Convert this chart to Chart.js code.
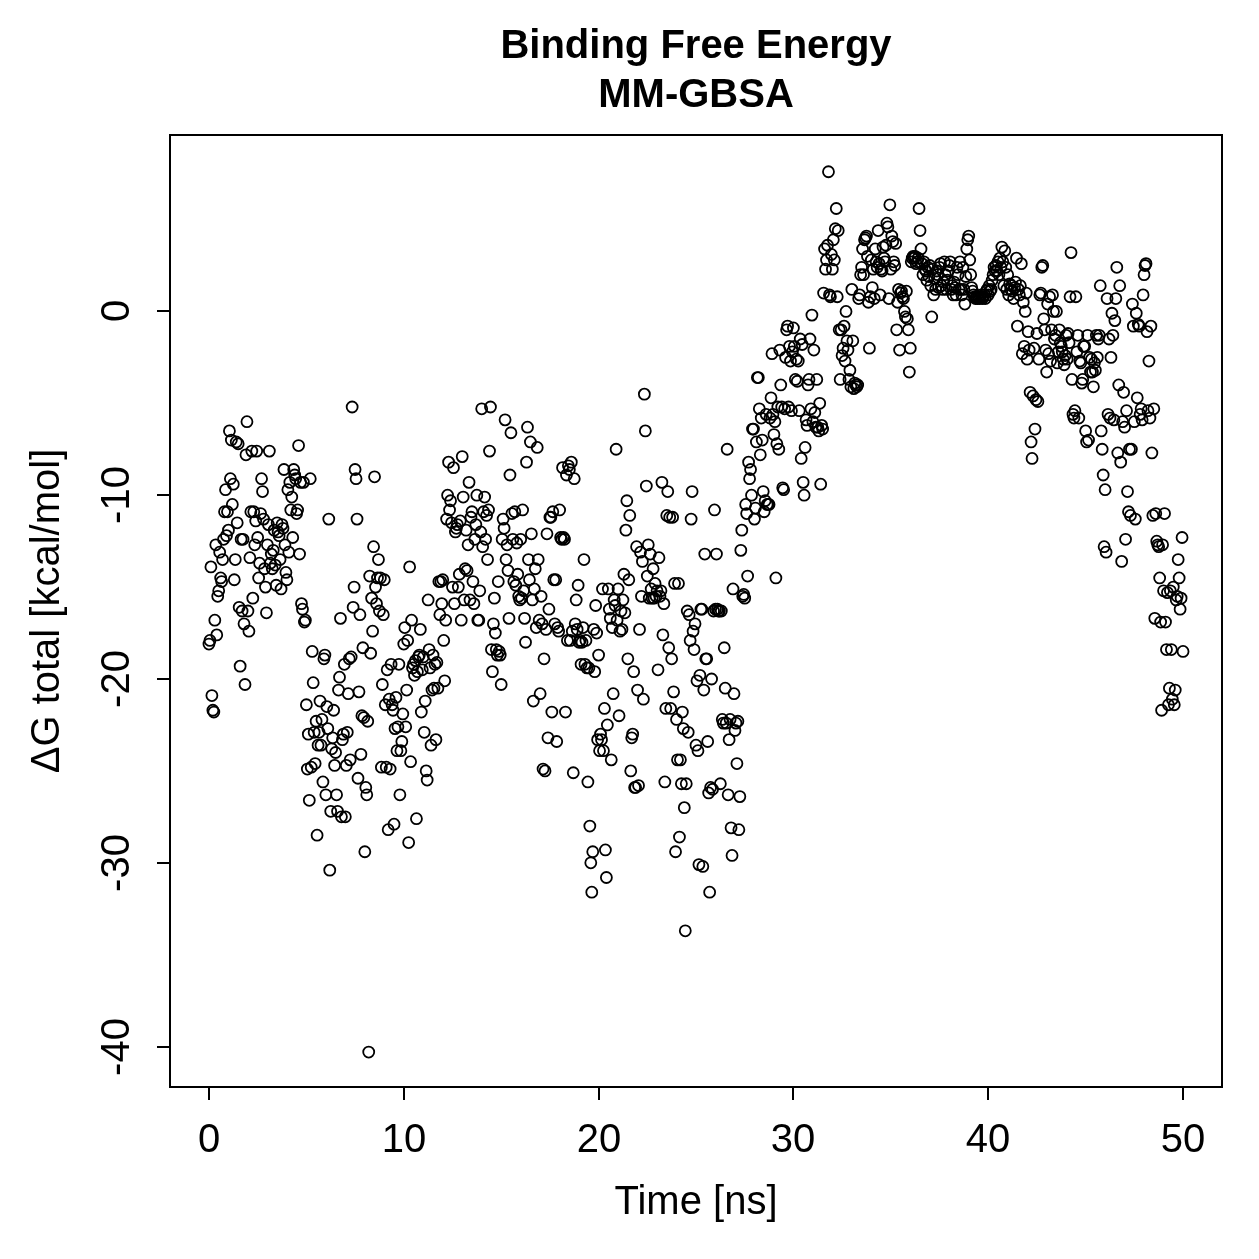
<!DOCTYPE html>
<html>
<head>
<meta charset="utf-8">
<title>Binding Free Energy MM-GBSA</title>
<script src="https://cdn.jsdelivr.net/npm/chart.js@4.4.1/dist/chart.umd.min.js"></script>
<style>
  html, body { margin: 0; padding: 0; background: #fff; }
  canvas { display: block; }
</style>
</head>
<body>
<canvas id="grafico" width="1259" height="1259"></canvas>
<script>
// ---- data: one frame every 0.05 ns ----
const timeNs = [
0,0.05,0.1,0.15,0.2,0.25,0.3,0.35,0.4,0.45,0.5,0.55,0.6,0.65,0.7,0.75,0.8,0.85,0.9,0.95,
1,1.05,1.1,1.15,1.2,1.25,1.3,1.35,1.4,1.45,1.5,1.55,1.6,1.65,1.7,1.75,1.8,1.85,1.9,1.95,
2,2.05,2.1,2.15,2.2,2.25,2.3,2.35,2.4,2.45,2.5,2.55,2.6,2.65,2.7,2.75,2.8,2.85,2.9,2.95,
3,3.05,3.1,3.15,3.2,3.25,3.3,3.35,3.4,3.45,3.5,3.55,3.6,3.65,3.7,3.75,3.8,3.85,3.9,3.95,
4,4.05,4.1,4.15,4.2,4.25,4.3,4.35,4.4,4.45,4.5,4.55,4.6,4.65,4.7,4.75,4.8,4.85,4.9,4.95,
5,5.05,5.1,5.15,5.2,5.25,5.3,5.35,5.4,5.45,5.5,5.55,5.6,5.65,5.7,5.75,5.8,5.85,5.9,5.95,
6,6.05,6.1,6.15,6.2,6.25,6.3,6.35,6.4,6.45,6.5,6.55,6.6,6.65,6.7,6.75,6.8,6.85,6.9,6.95,
7,7.05,7.1,7.15,7.2,7.25,7.3,7.35,7.4,7.45,7.5,7.55,7.6,7.65,7.7,7.75,7.8,7.85,7.9,7.95,
8,8.05,8.1,8.15,8.2,8.25,8.3,8.35,8.4,8.45,8.5,8.55,8.6,8.65,8.7,8.75,8.8,8.85,8.9,8.95,
9,9.05,9.1,9.15,9.2,9.25,9.3,9.35,9.4,9.45,9.5,9.55,9.6,9.65,9.7,9.75,9.8,9.85,9.9,9.95,
10,10.05,10.1,10.15,10.2,10.25,10.3,10.35,10.4,10.45,10.5,10.55,10.6,10.65,10.7,10.75,10.8,10.85,10.9,10.95,
11,11.05,11.1,11.15,11.2,11.25,11.3,11.35,11.4,11.45,11.5,11.55,11.6,11.65,11.7,11.75,11.8,11.85,11.9,11.95,
12,12.05,12.1,12.15,12.2,12.25,12.3,12.35,12.4,12.45,12.5,12.55,12.6,12.65,12.7,12.75,12.8,12.85,12.9,12.95,
13,13.05,13.1,13.15,13.2,13.25,13.3,13.35,13.4,13.45,13.5,13.55,13.6,13.65,13.7,13.75,13.8,13.85,13.9,13.95,
14,14.05,14.1,14.15,14.2,14.25,14.3,14.35,14.4,14.45,14.5,14.55,14.6,14.65,14.7,14.75,14.8,14.85,14.9,14.95,
15,15.05,15.1,15.15,15.2,15.25,15.3,15.35,15.4,15.45,15.5,15.55,15.6,15.65,15.7,15.75,15.8,15.85,15.9,15.95,
16,16.05,16.1,16.15,16.2,16.25,16.3,16.35,16.4,16.45,16.5,16.55,16.6,16.65,16.7,16.75,16.8,16.85,16.9,16.95,
17,17.05,17.1,17.15,17.2,17.25,17.3,17.35,17.4,17.45,17.5,17.55,17.6,17.65,17.7,17.75,17.8,17.85,17.9,17.95,
18,18.05,18.1,18.15,18.2,18.25,18.3,18.35,18.4,18.45,18.5,18.55,18.6,18.65,18.7,18.75,18.8,18.85,18.9,18.95,
19,19.05,19.1,19.15,19.2,19.25,19.3,19.35,19.4,19.45,19.5,19.55,19.6,19.65,19.7,19.75,19.8,19.85,19.9,19.95,
20,20.05,20.1,20.15,20.2,20.25,20.3,20.35,20.4,20.45,20.5,20.55,20.6,20.65,20.7,20.75,20.8,20.85,20.9,20.95,
21,21.05,21.1,21.15,21.2,21.25,21.3,21.35,21.4,21.45,21.5,21.55,21.6,21.65,21.7,21.75,21.8,21.85,21.9,21.95,
22,22.05,22.1,22.15,22.2,22.25,22.3,22.35,22.4,22.45,22.5,22.55,22.6,22.65,22.7,22.75,22.8,22.85,22.9,22.95,
23,23.05,23.1,23.15,23.2,23.25,23.3,23.35,23.4,23.45,23.5,23.55,23.6,23.65,23.7,23.75,23.8,23.85,23.9,23.95,
24,24.05,24.1,24.15,24.2,24.25,24.3,24.35,24.4,24.45,24.5,24.55,24.6,24.65,24.7,24.75,24.8,24.85,24.9,24.95,
25,25.05,25.1,25.15,25.2,25.25,25.3,25.35,25.4,25.45,25.5,25.55,25.6,25.65,25.7,25.75,25.8,25.85,25.9,25.95,
26,26.05,26.1,26.15,26.2,26.25,26.3,26.35,26.4,26.45,26.5,26.55,26.6,26.65,26.7,26.75,26.8,26.85,26.9,26.95,
27,27.05,27.1,27.15,27.2,27.25,27.3,27.35,27.4,27.45,27.5,27.55,27.6,27.65,27.7,27.75,27.8,27.85,27.9,27.95,
28,28.05,28.1,28.15,28.2,28.25,28.3,28.35,28.4,28.45,28.5,28.55,28.6,28.65,28.7,28.75,28.8,28.85,28.9,28.95,
29,29.05,29.1,29.15,29.2,29.25,29.3,29.35,29.4,29.45,29.5,29.55,29.6,29.65,29.7,29.75,29.8,29.85,29.9,29.95,
30,30.05,30.1,30.15,30.2,30.25,30.3,30.35,30.4,30.45,30.5,30.55,30.6,30.65,30.7,30.75,30.8,30.85,30.9,30.95,
31,31.05,31.1,31.15,31.2,31.25,31.3,31.35,31.4,31.45,31.5,31.55,31.6,31.65,31.7,31.75,31.8,31.85,31.9,31.95,
32,32.05,32.1,32.15,32.2,32.25,32.3,32.35,32.4,32.45,32.5,32.55,32.6,32.65,32.7,32.75,32.8,32.85,32.9,32.95,
33,33.05,33.1,33.15,33.2,33.25,33.3,33.35,33.4,33.45,33.5,33.55,33.6,33.65,33.7,33.75,33.8,33.85,33.9,33.95,
34,34.05,34.1,34.15,34.2,34.25,34.3,34.35,34.4,34.45,34.5,34.55,34.6,34.65,34.7,34.75,34.8,34.85,34.9,34.95,
35,35.05,35.1,35.15,35.2,35.25,35.3,35.35,35.4,35.45,35.5,35.55,35.6,35.65,35.7,35.75,35.8,35.85,35.9,35.95,
36,36.05,36.1,36.15,36.2,36.25,36.3,36.35,36.4,36.45,36.5,36.55,36.6,36.65,36.7,36.75,36.8,36.85,36.9,36.95,
37,37.05,37.1,37.15,37.2,37.25,37.3,37.35,37.4,37.45,37.5,37.55,37.6,37.65,37.7,37.75,37.8,37.85,37.9,37.95,
38,38.05,38.1,38.15,38.2,38.25,38.3,38.35,38.4,38.45,38.5,38.55,38.6,38.65,38.7,38.75,38.8,38.85,38.9,38.95,
39,39.05,39.1,39.15,39.2,39.25,39.3,39.35,39.4,39.45,39.5,39.55,39.6,39.65,39.7,39.75,39.8,39.85,39.9,39.95,
40,40.05,40.1,40.15,40.2,40.25,40.3,40.35,40.4,40.45,40.5,40.55,40.6,40.65,40.7,40.75,40.8,40.85,40.9,40.95,
41,41.05,41.1,41.15,41.2,41.25,41.3,41.35,41.4,41.45,41.5,41.55,41.6,41.65,41.7,41.75,41.8,41.85,41.9,41.95,
42,42.05,42.1,42.15,42.2,42.25,42.3,42.35,42.4,42.45,42.5,42.55,42.6,42.65,42.7,42.75,42.8,42.85,42.9,42.95,
43,43.05,43.1,43.15,43.2,43.25,43.3,43.35,43.4,43.45,43.5,43.55,43.6,43.65,43.7,43.75,43.8,43.85,43.9,43.95,
44,44.05,44.1,44.15,44.2,44.25,44.3,44.35,44.4,44.45,44.5,44.55,44.6,44.65,44.7,44.75,44.8,44.85,44.9,44.95,
45,45.05,45.1,45.15,45.2,45.25,45.3,45.35,45.4,45.45,45.5,45.55,45.6,45.65,45.7,45.75,45.8,45.85,45.9,45.95,
46,46.05,46.1,46.15,46.2,46.25,46.3,46.35,46.4,46.45,46.5,46.55,46.6,46.65,46.7,46.75,46.8,46.85,46.9,46.95,
47,47.05,47.1,47.15,47.2,47.25,47.3,47.35,47.4,47.45,47.5,47.55,47.6,47.65,47.7,47.75,47.8,47.85,47.9,47.95,
48,48.05,48.1,48.15,48.2,48.25,48.3,48.35,48.4,48.45,48.5,48.55,48.6,48.65,48.7,48.75,48.8,48.85,48.9,48.95,
49,49.05,49.1,49.15,49.2,49.25,49.3,49.35,49.4,49.45,49.5,49.55,49.6,49.65,49.7,49.75,49.8,49.85,49.9,49.95,
50
];

// dG total (kcal/mol)
const deltaG = [
-18.1,-17.9,-13.9,-20.9,-21.7,-21.8,-16.8,-12.7,-17.6,-15.5,-15.2,-13.1,-14.5,-14.7,-13.5,-12.4,-10.9,-9.7,-12.2,-10.9,
-11.9,-6.5,-9.1,-7.0,-10.5,-9.4,-14.6,-13.5,-7.1,-11.5,-7.2,-16.1,-19.3,-12.4,-16.3,-12.4,-17.0,-20.3,-7.8,-6.0,
-16.3,-17.4,-13.4,-10.9,-7.6,-15.6,-10.9,-12.7,-11.4,-7.6,-12.3,-14.5,-13.7,-11.0,-9.1,-9.8,-11.3,-14.0,-15.0,-16.4,
-12.7,-11.6,-7.6,-13.7,-13.2,-14.0,-13.0,-11.9,-13.8,-14.9,-11.5,-12.0,-12.2,-13.5,-15.1,-11.6,-11.8,-8.6,-12.7,-14.2,
-14.6,-9.7,-13.1,-9.3,-10.8,-10.1,-12.3,-8.6,-8.9,-9.1,-11.0,-10.8,-7.3,-13.2,-9.3,-15.9,-16.2,-9.3,-16.9,-16.8,
-21.4,-24.9,-23.0,-26.6,-9.1,-24.8,-18.5,-20.2,-22.9,-24.6,-22.3,-28.5,-23.6,-22.9,-21.2,-23.6,-22.2,-25.6,-18.9,-18.7,
-26.3,-21.5,-22.7,-11.3,-30.4,-27.2,-23.8,-23.2,-21.7,-24.7,-24.0,-26.3,-27.2,-20.6,-19.9,-16.7,-27.5,-23.3,-23.0,-19.2,-27.5,
-24.7,-22.9,-20.8,-18.9,-24.4,-18.8,-5.2,-16.1,-15.0,-8.6,-9.1,-11.3,-25.4,-20.7,-16.5,-24.1,-22.0,-18.3,-22.1,-29.4,
-25.9,-26.3,-22.3,-40.3,-14.4,-18.6,-15.6,-17.4,-12.8,-9.0,-15.0,-15.9,-14.5,-13.5,-16.3,-14.5,-24.8,-20.3,-16.5,-14.6,-21.4,
-24.8,-19.5,-28.2,-21.1,-24.9,-19.2,-21.4,-21.7,-27.9,-22.7,-21.0,-23.9,-22.6,-19.2,-26.3,-23.9,-23.4,-21.9,-18.1,-17.2,
-22.6,-20.6,-17.9,-28.9,-13.9,-24.5,-16.8,-19.4,-19.2,-19.8,-19.0,-27.6,-19.6,-18.8,-18.7,-17.3,-21.8,-19.5,-18.8,-22.9,-21.2,
-25.0,-25.5,-15.7,-18.4,-19.4,-23.6,-20.6,-18.7,-20.5,-19.2,-23.3,-19.1,-20.5,-14.7,-16.5,-14.7,-15.9,-14.6,-17.9,-20.1,
-16.8,-11.3,-10.0,-8.2,-10.8,-10.3,-11.5,-15.0,-8.5,-15.9,-12.0,-11.8,-11.6,-15.0,-14.3,-11.4,-16.8,-7.9,-10.1,-15.7,-14.0,
-11.9,-14.1,-12.7,-9.3,-15.7,-11.2,-10.9,-14.7,-15.9,-12.4,-11.6,-10.0,-16.8,-16.8,-15.2,-12.0,-5.3,-12.8,-10.9,-10.1,
-12.4,-11.1,-13.5,-10.8,-7.6,-5.2,-18.4,-19.6,-17.0,-15.6,-17.5,-18.4,-18.7,-14.7,-18.5,-18.7,-20.3,-12.4,-11.3,-11.8,-5.9,
-13.5,-12.7,-14.1,-16.7,-8.9,-6.6,-11.0,-12.4,-14.7,-10.9,-14.9,-12.6,-14.3,-15.5,-15.7,-12.4,-15.6,-10.8,-15.2,-16.7,
-18.0,-8.2,-6.3,-13.5,-14.6,-7.1,-12.1,-15.7,-21.2,-15.1,-14.0,-17.2,-7.4,-13.5,-16.8,-20.8,-15.5,-17.0,-24.9,-18.9,-25.0,
-17.3,-12.1,-23.2,-16.2,-11.2,-11.2,-21.8,-10.9,-14.6,-17.0,-14.6,-23.4,-17.2,-17.4,-10.8,-12.3,-12.4,-8.5,-12.3,-12.4,
-21.8,-8.9,-17.9,-8.4,-8.6,-17.9,-8.2,-17.4,-25.1,-9.1,-17.0,-15.7,-17.3,-14.9,-18.0,-17.9,-19.2,-18.0,-17.2,-13.5,-19.2,
-17.9,-19.4,-25.6,-19.4,-28.0,-30.0,-31.6,-29.4,-17.3,-19.6,-16.0,-17.5,-23.3,-18.7,-23.9,-23.0,-23.3,-15.1,-23.9,-21.6,
-29.3,-30.8,-22.5,-15.1,-16.2,-16.7,-24.4,-17.2,-20.8,-15.7,-16.0,-7.5,-16.8,-15.1,-22.0,-17.4,-16.3,-17.3,-15.7,-14.3,-16.4,
-11.9,-10.3,-18.9,-14.6,-11.1,-25.0,-23.2,-23.0,-19.6,-25.9,-25.9,-12.8,-20.6,-25.8,-17.3,-13.1,-15.5,-13.6,-21.1,-4.5,
-6.5,-9.5,-14.4,-12.7,-15.6,-13.2,-15.1,-15.6,-14.0,-15.6,-14.8,-15.5,-15.2,-19.5,-13.4,-15.5,-15.2,-9.3,-17.6,-15.9,-25.6,
-21.6,-11.1,-9.8,-18.3,-11.2,-21.6,-18.9,-11.2,-20.7,-14.8,-29.4,-22.2,-24.4,-14.8,-28.6,-24.4,-25.7,-21.8,-22.7,-27.0,
-33.7,-25.7,-16.3,-22.9,-16.5,-17.9,-11.3,-9.8,-17.4,-18.4,-17.0,-23.6,-20.1,-23.9,-30.1,-19.8,-16.2,-16.2,-30.2,-20.6,-13.2,
-18.9,-18.9,-23.4,-26.2,-31.6,-25.9,-20.0,-26.0,-16.3,-10.8,-16.2,-13.2,-16.2,-16.3,-16.3,-25.7,-16.3,-22.2,-22.4,-18.3,
-20.5,-22.4,-7.5,-26.3,-23.3,-22.2,-28.1,-29.6,-15.1,-20.8,-22.8,-22.4,-24.6,-22.3,-28.2,-26.4,-13.0,-11.9,-15.5,-15.4,-15.6,
-10.5,-11.0,-14.4,-8.2,-9.1,-8.6,-10.0,-6.4,-6.4,-11.3,-10.7,-7.1,-3.6,-3.6,-5.3,-7.8,-5.8,-7.0,-9.8,-10.9,
-10.3,-5.6,-10.5,-10.5,-10.5,-5.8,-4.7,-2.3,-5.6,-6.7,-6.0,-14.5,-7.2,-5.2,-7.5,-2.1,-4.0,-5.2,-9.6,-9.7,-5.3,
-2.5,-1.0,-0.8,-5.2,-1.9,-2.7,-5.4,-2.2,-0.9,-1.9,-3.7,-2.6,-3.8,-2.7,-5.4,-1.5,-8.0,-1.8,-9.3,-10.0,
-7.4,-5.9,-6.2,-4.0,-3.7,-1.5,-5.3,-0.2,-6.0,-2.1,-5.5,-6.3,-3.7,-6.3,-6.5,-5.0,-9.4,-6.2,-6.4,1.0,3.4,
2.3,2.8,3.6,7.6,0.9,0.8,3.1,2.3,3.9,2.8,4.5,5.6,0.8,4.4,-1.0,-3.7,-1.0,-2.4,-2.0,-0.8,
-2.7,0.0,-1.6,-2.1,-3.7,-3.2,-4.1,1.2,-1.6,-4.2,-3.9,-4.0,-4.1,-4.0,0.7,0.9,2.0,2.4,3.4,2.0,3.9,
4.0,4.1,3.0,0.5,-2.0,0.8,2.8,1.3,2.3,0.7,3.4,2.7,2.4,4.4,2.6,0.9,2.3,2.2,3.5,2.9,
2.7,3.6,4.8,4.6,0.7,5.8,2.3,4.1,3.8,2.7,2.5,3.7,-1.0,0.5,1.2,-2.1,1.0,1.1,0.8,0.7,0.0,
-0.3,1.1,-0.4,-1.0,-3.3,-2.0,2.7,2.9,3.0,2.9,3.0,2.6,2.7,2.9,5.6,4.4,3.4,2.6,2.0,2.7,
2.3,2.2,1.7,2.4,1.9,2.5,1.4,-0.3,2.3,0.9,1.8,1.2,2.2,2.0,1.3,2.4,2.6,1.4,1.2,1.6,2.7,
2.0,1.2,1.7,2.2,2.5,2.7,1.2,1.4,0.9,1.6,1.3,0.9,2.4,2.0,1.2,2.7,1.2,0.9,2.4,1.2,
0.4,1.9,3.4,3.9,4.1,2.8,2.0,1.3,1.1,0.9,0.8,0.7,0.8,0.7,0.8,0.7,0.8,0.9,0.7,0.8,0.9,
0.7,1.1,1.2,0.9,1.4,1.1,1.2,1.7,2.0,2.4,2.2,2.5,2.2,2.7,2.0,2.9,2.4,3.5,2.7,1.4,
3.3,2.4,1.2,2.0,0.9,1.5,1.2,1.4,1.1,0.7,1.3,1.6,2.9,-0.8,1.2,0.9,1.4,2.6,-2.3,0.5,-1.9,
0.0,1.0,-2.6,-1.1,-2.1,-4.4,-7.1,-8.0,-4.6,-2.0,-6.4,-4.8,-1.2,-4.9,-2.6,0.9,1.0,2.4,2.5,-0.4,
-1.0,-2.1,-3.3,0.4,-2.3,0.8,-2.7,-1.0,0.9,0.0,-1.5,-1.3,0.0,-2.8,-2.2,-1.0,-1.7,-1.9,-2.2,-2.6,-2.9,
-2.4,-1.3,-2.6,-1.2,-1.7,0.8,3.2,-3.7,-5.6,-5.8,-5.4,0.8,-2.2,-1.3,-5.8,-2.7,-2.8,-3.9,-3.7,-1.9,
-1.9,-6.5,-7.1,-1.3,-7.0,-2.5,-3.3,-2.6,-3.3,-4.1,-2.8,-3.2,-1.3,-2.5,-1.5,-1.3,1.4,-6.5,-7.5,-8.9,-12.8,
-9.7,-13.1,0.7,-5.6,-1.5,-5.8,-2.5,-0.1,-1.3,-5.9,-0.5,0.7,2.4,-7.7,-4.0,1.4,-8.2,-13.6,-6.0,-4.4,
-6.3,-12.4,-5.4,-9.8,-10.9,-7.5,-11.1,-7.5,0.4,-0.8,-6.0,-11.3,-0.1,-4.7,-0.7,-0.8,-5.6,-5.3,-5.9,0.9,2.0,
2.5,2.6,-1.1,-5.4,-2.7,-5.8,-0.8,-7.7,-11.1,-5.3,-16.7,-11.0,-12.5,-12.7,-12.8,-14.5,-16.9,-21.7,-12.7,-15.2,
-11.0,-16.9,-18.4,-15.3,-21.4,-20.5,-15.2,-18.4,-21.1,-15.0,-21.4,-20.6,-15.7,-15.5,-13.5,-14.5,-16.2,-15.6,-12.3,-18.5
];

const xTicks = [0, 10, 20, 30, 40, 50];
const yTicks = [0, -10, -20, -30, -40];
const titulo = ["Binding Free Energy", "MM-GBSA"];
const xLabel = "Time [ns]";
const yLabel = "\u0394G total [kcal/mol]";

// pair them up for the scatter
const puntos = [];
const n = Math.min(timeNs.length, deltaG.length);
for (let i = 0; i < n; i++) puntos.push({ x: timeNs[i], y: deltaG[i] });

const FUENTE = '"Liberation Sans", Arial, Helvetica, sans-serif';

// R-like frame, ticks and labels drawn from the chart's own scales
const marcoR = {
  id: 'marcoR',
  afterDraw(chart) {
    const { ctx, chartArea: a, scales } = chart;
    const sx = scales.x, sy = scales.y;
    ctx.save();
    ctx.strokeStyle = '#000';
    ctx.fillStyle = '#000';
    ctx.lineWidth = 2;
    ctx.strokeRect(a.left, a.top, a.right - a.left, a.bottom - a.top);

    ctx.font = '40px ' + FUENTE;
    ctx.textAlign = 'center';
    ctx.textBaseline = 'middle';

    xTicks.forEach(v => {
      const px = Math.round(sx.getPixelForValue(v));
      ctx.beginPath();
      ctx.moveTo(px, a.bottom);
      ctx.lineTo(px, a.bottom + 13);
      ctx.stroke();
      ctx.fillText(String(v), px, a.bottom + 54);
    });

    yTicks.forEach(v => {
      const py = Math.round(sy.getPixelForValue(v));
      ctx.beginPath();
      ctx.moveTo(a.left, py);
      ctx.lineTo(a.left - 13, py);
      ctx.stroke();
      ctx.save();
      ctx.translate(a.left - 52, py);
      ctx.rotate(-Math.PI / 2);
      ctx.fillText(String(v), 0, 0);
      ctx.restore();
    });

    // axis titles
    ctx.fillText(xLabel, (a.left + a.right) / 2, 1203);
    ctx.save();
    ctx.translate(48, (a.top + a.bottom) / 2);
    ctx.rotate(-Math.PI / 2);
    ctx.fillText(yLabel, 0, 0);
    ctx.restore();

    // title
    ctx.font = 'bold 40px ' + FUENTE;
    ctx.fillText(titulo[0], (a.left + a.right) / 2, 47);
    ctx.fillText(titulo[1], (a.left + a.right) / 2, 96);
    ctx.restore();
  }
};

const ctx = document.getElementById('grafico').getContext('2d');
new Chart(ctx, {
  type: 'scatter',
  data: {
    datasets: [{
      data: puntos,
      pointStyle: 'circle',
      pointRadius: 5.5,
      pointHoverRadius: 5.5,
      pointBorderWidth: 1.8,
      pointBorderColor: '#000',
      pointBackgroundColor: 'rgba(0,0,0,0)'
    }]
  },
  options: {
    responsive: false,
    animation: false,
    events: [],
    layout: { padding: { left: 170, right: 37, top: 135, bottom: 172 } },
    plugins: { legend: { display: false }, tooltip: { enabled: false } },
    scales: {
      x: { type: 'linear', min: -2, max: 52, display: false },
      y: { type: 'linear', min: -42.2, max: 9.6, display: false }
    }
  },
  plugins: [marcoR]
});
</script>
</body>
</html>
